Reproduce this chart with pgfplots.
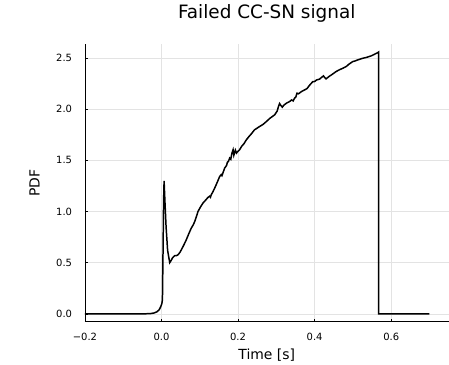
\documentclass[border=0pt]{standalone}
\usepackage{pgfplots}
\pgfplotsset{compat=1.18}
\usepackage{fontspec}
\setmainfont{DejaVu Sans}
\begin{document}
\begin{tikzpicture}
\begin{axis}[
  scale only axis,
  width=364bp, height=278bp,
  xmin=-0.2, xmax=0.75,
  ymin=-0.0768, ymax=2.6368,
  axis x line*=bottom, axis y line*=left,
  axis line style={black, line width=0.8pt},
  tick align=inside,
  major tick length=3bp,
  tick style={black, line width=0.5pt},
  xtick={-0.2,0,0.2,0.4,0.6},
  xticklabels={−0.2,0.0,0.2,0.4,0.6},
  ytick={0,0.5,1,1.5,2,2.5},
  yticklabels={0.0,0.5,1.0,1.5,2.0,2.5},
  tick label style={font=\fontsize{10}{11}\selectfont, black},
  xticklabel style={anchor=north, inner sep=0pt, yshift=-11bp},
  yticklabel style={anchor=east, inner sep=0pt, xshift=-12.7bp},
  grid=major,
  major grid style={gray!22, line width=0.5pt},
  title={Failed CC-SN signal},
  title style={font=\fontsize{18.5}{20}\selectfont, at={(rel axis cs:0.5,1)}, anchor=base, inner sep=0pt, yshift=19.5bp},
  xlabel={Time [s]},
  ylabel={PDF},
  xlabel style={font=\fontsize{14}{16}\selectfont, at={(rel axis cs:0.5,0)}, anchor=base, inner sep=0pt, yshift=-37.5bp},
  ylabel style={font=\fontsize{14}{16}\selectfont, at={(rel axis cs:0,0.5)}, anchor=center, inner sep=0pt, yshift=50.5bp},
  clip=false,
]
\addplot[black, line width=1.5pt] coordinates {
(-0.2,0) (-0.05,0) (-0.03,0.002) (-0.02,0.008) (-0.012,0.02) (-0.006,0.04)
(-0.002,0.07) (0.001,0.1) (0.0025,0.14) (0.004,0.6) (0.0055,1.1) (0.0068,1.30)
(0.009,1.1) (0.012,0.85) (0.016,0.62) (0.0215,0.50) (0.025,0.52) (0.0287,0.546)
(0.032,0.56) (0.035,0.569) (0.039,0.568) (0.0434,0.578) (0.048,0.60) (0.052,0.627)
(0.058,0.67) (0.065,0.725) (0.071,0.78) (0.078,0.839) (0.083,0.87) (0.087,0.904)
(0.092,0.96) (0.0955,1.001) (0.102,1.045) (0.1085,1.083) (0.115,1.11) (0.1216,1.138)
(0.126,1.15) (0.128,1.14) (0.130,1.164) (0.134,1.19) (0.139,1.229) (0.145,1.28)
(0.152,1.342) (0.156,1.36) (0.158,1.35) (0.165,1.424) (0.170,1.45) (0.172,1.48)
(0.175,1.49) (0.178,1.522) (0.181,1.51) (0.184,1.57) (0.187,1.603) (0.189,1.55)
(0.193,1.60) (0.196,1.571) (0.199,1.585) (0.204,1.603) (0.210,1.64) (0.215,1.66)
(0.2216,1.70) (0.228,1.73) (0.235,1.76) (0.243,1.798) (0.248,1.81) (0.256,1.83)
(0.265,1.85) (0.274,1.879) (0.283,1.91) (0.2955,1.944) (0.302,1.98) (0.306,2.03)
(0.3085,2.055) (0.311,2.04) (0.3155,2.019) (0.320,2.04) (0.327,2.06) (0.3345,2.074)
(0.340,2.09) (0.344,2.08) (0.3476,2.107) (0.351,2.12) (0.354,2.156) (0.358,2.15)
(0.365,2.17) (0.3737,2.188) (0.380,2.20) (0.386,2.23) (0.3953,2.269) (0.400,2.27)
(0.405,2.285) (0.4128,2.293) (0.418,2.31) (0.4232,2.325) (0.426,2.31) (0.430,2.296)
(0.438,2.32) (0.446,2.34) (0.456,2.367) (0.465,2.385) (0.474,2.40) (0.4824,2.416)
(0.490,2.44) (0.4997,2.465) (0.505,2.47) (0.512,2.48) (0.5257,2.497) (0.535,2.505)
(0.5476,2.52) (0.556,2.535) (0.5648,2.552) (0.567,2.558) (0.5672,0) (0.70,0)
};
\coordinate (bl) at (rel axis cs:0,0);
\coordinate (tr) at (rel axis cs:1,1);
\end{axis}
\path[use as bounding box] ([xshift=-85bp,yshift=-43bp]bl) rectangle ([yshift=44bp]tr);
\end{tikzpicture}
\end{document}
